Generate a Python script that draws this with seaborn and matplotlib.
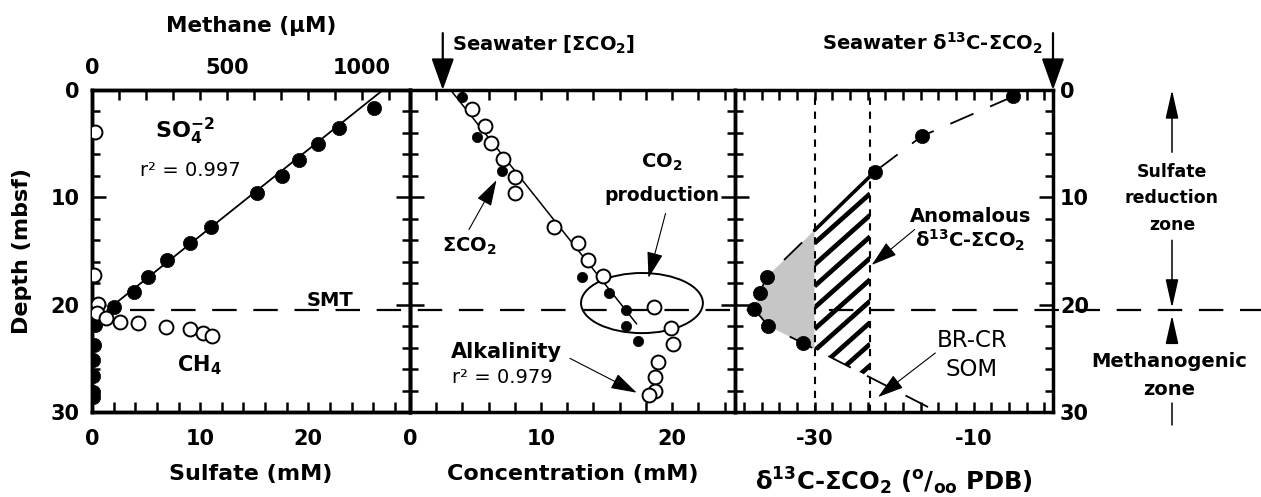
import numpy as np
import seaborn as sns
import matplotlib
matplotlib.use("Agg")
import matplotlib.pyplot as plt
import matplotlib.transforms as mtransforms
from matplotlib.patches import Ellipse, Polygon
from matplotlib.collections import LineCollection
from matplotlib.ticker import MultipleLocator, FixedLocator

# ---------------- data ----------------
# Panel 1: pore-water sulfate (mM) and methane (uM) vs depth (mbsf)
so4_depth = [1.7, 3.5, 5.0, 6.5, 8.0, 9.6, 12.8, 14.3, 15.8, 17.4, 18.8, 20.2,
             21.9, 23.8, 25.2, 26.6, 28.1, 28.6]
so4_mM = [26.1, 22.8, 20.9, 19.1, 17.6, 15.3, 11.0, 9.1, 6.9, 5.2, 3.9, 2.0,
          0.3, 0.2, 0.1, 0.1, 0.1, 0.1]
so4_fit_depth = [0.0, 20.5]
so4_fit_mM = [26.9, 1.4]
ch4_depth = [3.9, 17.2, 19.9, 20.8, 21.2, 21.6, 21.7, 22.1, 22.3, 22.6, 22.9]
ch4_uM = [11, 8, 22, 19, 52, 104, 170, 274, 363, 411, 444]

# Panel 2: sum CO2 (filled) and alkalinity (open), mM
dic_depth = [0.65, 4.4, 7.5, 17.4, 18.9, 20.5, 22.0, 23.4]
dic_mM = [4.0, 5.1, 7.0, 13.1, 15.2, 16.5, 16.5, 17.4]
alk_depth = [1.8, 3.4, 4.9, 6.4, 8.1, 9.6, 12.8, 14.3, 15.8, 17.3, 20.2, 22.2,
             23.7, 25.3, 26.7, 28.0, 28.4]
alk_mM = [4.75, 5.7, 6.2, 7.1, 8.05, 8.05, 11.0, 12.8, 13.6, 14.7, 18.6, 19.9,
          20.1, 18.9, 18.7, 18.7, 18.2]
alk_fit_depth = [0.0, 21.8]
alk_fit_mM = [3.1, 17.3]
seawater_dic = 2.5
co2_prod_center = (17.7, 19.85)
co2_prod_size = (9.3, 5.6)

# Panel 3: d13C of sum CO2 (permil PDB)
d13c_depth = [0.6, 4.3, 7.6, 17.4, 18.9, 20.4, 22.0, 23.6]
d13c = [-5.0, -16.5, -22.4, -36.0, -36.9, -37.6, -35.8, -31.4]
trend_end = (-14.5, 30.0)
seawater_d13c = 0.0
brcr_bounds = [-30.0, -23.0]

smt_depth = 20.5

# ---------------- style ----------------
sns.set_style("ticks")
plt.rcParams.update({
    "font.family": ["DejaVu Sans"],
    "font.weight": "bold",
    "text.color": "black",
    "axes.labelcolor": "black",
    "axes.unicode_minus": False,
    "axes.linewidth": 2.5,
    "axes.edgecolor": "black",
    "xtick.color": "black",
    "ytick.color": "black",
    "xtick.labelcolor": "black",
    "ytick.labelcolor": "black",
    "axes.facecolor": "none",
    "figure.facecolor": "white",
})

W, H = 1261, 497
fig = plt.figure(figsize=(W / 100, H / 100), dpi=100)


def axes_box(x0, x1, y0=90, y1=412):
    return [x0 / W, 1 - y1 / H, (x1 - x0) / W, (y1 - y0) / H]


ax1 = fig.add_axes(axes_box(92, 410))
ax1t = ax1.twiny()
ax2 = fig.add_axes(axes_box(410, 735))
ax3 = fig.add_axes(axes_box(735, 1053))

TW = 1.8
for ax in (ax1, ax2, ax3):
    ax.set_ylim(30, 0)
    ax.yaxis.set_major_locator(MultipleLocator(10))
    ax.yaxis.set_minor_locator(MultipleLocator(2))
    ax.tick_params(axis="y", which="major", direction="in", length=10, width=TW,
                   left=True, right=True, labelleft=False, labelright=False,
                   labelsize=15)
    ax.tick_params(axis="y", which="minor", direction="in", length=6, width=TW,
                   left=True, right=True)
    ax.tick_params(axis="x", which="both", direction="in", length=7, width=TW,
                   bottom=True, top=True, labelsize=15, pad=12)
    for s in ax.spines.values():
        s.set_linewidth(2.5)

ax1.tick_params(axis="x", which="both", top=False)
ax1.tick_params(axis="y", which="major", labelleft=True, pad=9)
ax3.tick_params(axis="y", which="major", labelright=True, pad=5)

ax1t.tick_params(axis="x", which="both", direction="in", length=7, width=TW,
                 top=True, bottom=False, labeltop=True, labelbottom=False,
                 labelsize=15, pad=9)
for s in ax1t.spines.values():
    s.set_linewidth(2.5)

# ---------------- panel 1 ----------------
sns.lineplot(x=so4_fit_mM, y=so4_fit_depth, sort=False, estimator=None,
             color="black", lw=1.3, ax=ax1)
sns.scatterplot(x=so4_mM, y=so4_depth, color="black", edgecolor="black",
                linewidth=0.5, s=105, ax=ax1, zorder=3)
sns.scatterplot(x=ch4_uM, y=ch4_depth, color="white", edgecolor="black",
                linewidth=1.4, s=100, ax=ax1t, zorder=4)

ax1.set_xlim(0, 29.4)
ax1.xaxis.set_major_locator(MultipleLocator(10))
ax1.xaxis.set_minor_locator(MultipleLocator(2))
ax1t.set_xlim(0, 1178)
ax1t.xaxis.set_major_locator(MultipleLocator(500))
ax1t.xaxis.set_minor_locator(MultipleLocator(100))
ax1t.set_ylim(30, 0)

ax1.set_xlabel("Sulfate (mM)", fontsize=16, fontweight="bold", labelpad=11)
ax1.set_ylabel("Depth (mbsf)", fontsize=16, fontweight="bold", labelpad=13)
ax1t.set_xlabel("Methane (μM)", fontsize=15.5, fontweight="bold", labelpad=18)

ax1.text(5.8, 3.9, r"SO$\mathregular{_4^{-2}}$", fontsize=16, fontweight="bold",
         ha="left", va="center")
ax1.text(4.4, 7.5, "r² = 0.997", fontsize=14, fontweight="normal",
         ha="left", va="center")
ax1.text(7.9, 25.6, r"CH$\mathregular{_4}$", fontsize=15, fontweight="bold",
         ha="left", va="center")
ax1.text(19.8, 19.65, "SMT", fontsize=14, fontweight="bold", ha="left", va="center")

# SMT dashed line crossing all panels into the right margin
ax1.plot([(130 - 92) / 318, (W - 92) / 318], [smt_depth, smt_depth],
         transform=mtransforms.blended_transform_factory(ax1.transAxes, ax1.transData),
         color="black", lw=1.6, ls=(0, (11, 7.5)), clip_on=False, zorder=1)

# ---------------- panel 2 ----------------
sns.lineplot(x=alk_fit_mM, y=alk_fit_depth, sort=False, estimator=None,
             color="black", lw=1.1, ax=ax2)
sns.scatterplot(x=alk_mM, y=alk_depth, color="white", edgecolor="black",
                linewidth=1.4, s=100, ax=ax2, zorder=3)
sns.scatterplot(x=dic_mM, y=dic_depth, color="black", edgecolor="black",
                linewidth=0.5, s=55, ax=ax2, zorder=4)
ax2.add_patch(Ellipse(co2_prod_center, co2_prod_size[0], co2_prod_size[1],
                      fill=False, edgecolor="black", lw=1.4, zorder=2))

ax2.set_xlim(0, 24.8)
ax2.xaxis.set_major_locator(MultipleLocator(10))
ax2.xaxis.set_minor_locator(MultipleLocator(2))
ax2.set_xlabel("Concentration (mM)", fontsize=16, fontweight="bold", labelpad=11)
ax2.set_ylabel("")

thin_head = dict(arrowstyle="-|>,head_length=0.65,head_width=0.2",
                 color="black", lw=0.8, mutation_scale=25, shrinkA=0, shrinkB=0)
bold_head = dict(arrowstyle="-|>,head_length=0.7,head_width=0.25",
                 color="black", lw=1.6, mutation_scale=28, shrinkA=0, shrinkB=0)

ax2.annotate("", xy=(seawater_dic, 0), xytext=(seawater_dic, -5.3),
             arrowprops=bold_head, annotation_clip=False)
ax2.text(3.2, -3.7, r"Seawater [ΣCO$\mathregular{_2}$]", fontsize=14,
         fontweight="bold", ha="left", va="baseline", clip_on=False)
ax2.text(19.2, 7.2, r"CO$\mathregular{_2}$", fontsize=14, fontweight="bold",
         ha="center", va="baseline")
ax2.text(19.2, 10.3, "production", fontsize=13.5, fontweight="bold",
         ha="center", va="baseline")
ax2.annotate("", xy=(18.2, 17.5), xytext=(19.5, 11.5), arrowprops=thin_head)
ax2.text(2.45, 15.1, r"ΣCO$\mathregular{_2}$", fontsize=14, fontweight="bold",
         ha="left", va="baseline")
ax2.annotate("", xy=(6.6, 8.4), xytext=(4.5, 13.0), arrowprops=thin_head)
ax2.text(3.15, 25.0, "Alkalinity", fontsize=15, fontweight="bold",
         ha="left", va="baseline")
ax2.text(3.2, 27.3, "r² = 0.979", fontsize=14, fontweight="normal",
         ha="left", va="baseline")
ax2.annotate("", xy=(17.3, 28.2), xytext=(12.2, 25.0), arrowprops=thin_head)

# ---------------- panel 3 ----------------


def depth_on(p, q, x):
    """Depth on the straight segment p-q at isotope value x."""
    (x0, y0), (x1, y1) = p, q
    return y0 + (y1 - y0) * (x - x0) / (x1 - x0)


pts = list(zip(d13c, d13c_depth))
lo, hi = brcr_bounds
up_lo = depth_on(pts[2], pts[3], lo)
up_hi = depth_on(pts[2], pts[3], hi)
dn_lo = depth_on(pts[7], trend_end, lo)
dn_hi = depth_on(pts[7], trend_end, hi)

grey = Polygon([(lo, up_lo)] + pts[3:8] + [(lo, dn_lo)], closed=True,
               facecolor="#c6c6c6", edgecolor="none", zorder=1)
ax3.add_patch(grey)

hatch_poly = Polygon([(lo, up_lo), (hi, up_hi), (hi, dn_hi), (lo, dn_lo)],
                     closed=True, facecolor="none", edgecolor="none")
ax3.add_patch(hatch_poly)
slope = 0.66
offsets = np.arange(up_lo - 0.8, dn_hi + 6, 2.0)
segs = [[(lo, c), (hi, c - slope * (hi - lo))] for c in offsets]
hatch = LineCollection(segs, colors="black", linewidths=3.4, zorder=2)
ax3.add_collection(hatch)
hatch.set_clip_path(hatch_poly)

# upper edge of the hatched area
sns.lineplot(x=[d13c[2], lo], y=[d13c_depth[2], up_lo], sort=False,
             estimator=None, color="black", lw=2.6, ax=ax3)
# mixing trend through the profile
trend_x = d13c + [trend_end[0]]
trend_y = d13c_depth + [trend_end[1]]
sns.lineplot(x=trend_x, y=trend_y, sort=False, estimator=None, color="black",
             lw=1.3, ls=(0, (14, 10)), ax=ax3)
for v in brcr_bounds:
    ax3.axvline(v, color="black", lw=1.5, ls=(0, (3.5, 3.2)), zorder=2)
sns.scatterplot(x=d13c, y=d13c_depth, color="black", edgecolor="black",
                linewidth=0.5, s=105, ax=ax3, zorder=4)

ax3.set_xlim(-40, 0)
ax3.set_ylim(30, 0)
step = 20 / 9
ax3.xaxis.set_major_locator(FixedLocator([-30, -10]))
ax3.xaxis.set_minor_locator(FixedLocator(np.arange(-30 - 4 * step, 0, step)))
ax3.set_xlabel(r"δ$\mathregular{^{13}}$C-ΣCO$\mathregular{_2}$ "
               r"($\mathregular{^o}$/$\mathregular{_{oo}}$ PDB)",
               fontsize=17.5, fontweight="bold", labelpad=12)
ax3.set_ylabel("")

ax3.annotate("", xy=(seawater_d13c, 0), xytext=(seawater_d13c, -5.3),
             arrowprops=bold_head, annotation_clip=False)
ax3.text(-1.3, -3.7, r"Seawater δ$\mathregular{^{13}}$C-ΣCO$\mathregular{_2}$",
         fontsize=14, fontweight="bold", ha="right", va="baseline", clip_on=False)
ax3.text(-10.4, 12.3, "Anomalous", fontsize=14, fontweight="bold",
         ha="center", va="baseline")
ax3.text(-10.4, 14.7, r"δ$\mathregular{^{13}}$C-ΣCO$\mathregular{_2}$", fontsize=14,
         fontweight="bold", ha="center", va="baseline")
ax3.annotate("", xy=(-22.8, 16.3), xytext=(-17.4, 13.0), arrowprops=thin_head)
ax3.text(-10.2, 23.9, "BR-CR", fontsize=16.5, fontweight="normal",
         ha="center", va="baseline")
ax3.text(-10.2, 26.6, "SOM", fontsize=16.5, fontweight="normal",
         ha="center", va="baseline")
ax3.annotate("", xy=(-22.0, 28.6), xytext=(-14.8, 24.5), arrowprops=thin_head)

# zone annotations in the right margin
zt = mtransforms.blended_transform_factory(ax3.transAxes, ax3.transData)
zx = (1172 - 735) / 318
zone_head = dict(arrowstyle="-|>,head_length=0.8,head_width=0.18",
                 color="black", lw=1.1, mutation_scale=22, shrinkA=0, shrinkB=0)
for txt, d in (("Sulfate", 8.1), ("reduction", 10.5), ("zone", 13.0)):
    ax3.text(zx, d, txt, transform=zt, fontsize=12.5, fontweight="bold",
             ha="center", va="baseline", clip_on=False)
for txt, d in (("Methanogenic", 25.8), ("zone", 28.4)):
    ax3.text(zx - 0.01, d, txt, transform=zt, fontsize=14, fontweight="bold",
             ha="center", va="baseline", clip_on=False)
for y0, y1 in ((5.8, 0.0), (14.0, 20.3), (23.6, 21.0)):
    ax3.annotate("", xy=(zx, y1), xytext=(zx, y0), xycoords=zt, textcoords=zt,
                 arrowprops=zone_head, annotation_clip=False)
ax3.plot([zx, zx], [29.2, 31.2], transform=zt, color="black", lw=1.1,
         clip_on=False)

fig.savefig("out.png", dpi=100)
